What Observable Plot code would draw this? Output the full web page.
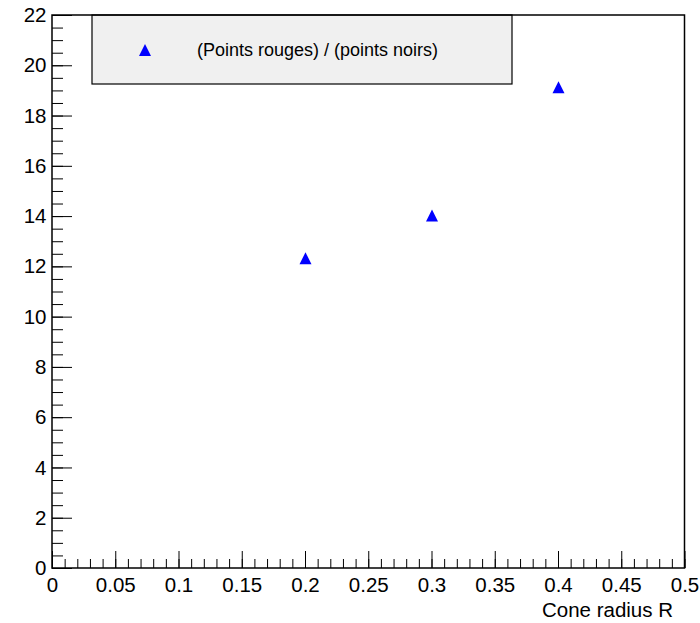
<!DOCTYPE html>
<html>
<head>
<meta charset="utf-8">
<script src="https://cdn.jsdelivr.net/npm/d3@7"></script>
<script src="https://cdn.jsdelivr.net/npm/@observablehq/plot@0.6"></script>
<style>
  html, body { margin: 0; padding: 0; background: #fff; }
  #chart svg { display: block; font-family: "Liberation Sans", Arial, Helvetica, sans-serif; }
</style>
</head>
<body>
<div id="chart"></div>
<script>
// Ratio of red points to black points as a function of the cone radius R
const coneRadius = [0.2, 0.3, 0.4];
const pointRatio = [12.34, 14.04, 19.15];

const xTickValues = [0, 0.05, 0.1, 0.15, 0.2, 0.25, 0.3, 0.35, 0.4, 0.45, 0.5];
const xTickLabels = ["0", "0.05", "0.1", "0.15", "0.2", "0.25", "0.3", "0.35", "0.4", "0.45", "0.5"];
const yTickValues = [0, 2, 4, 6, 8, 10, 12, 14, 16, 18, 20, 22];
const yTickLabels = ["0", "2", "4", "6", "8", "10", "12", "14", "16", "18", "20", "22"];

const xTitle = "Cone radius R";
const legendLabel = "(Points rouges) / (points noirs)";

const data = coneRadius.map((r, i) => ({r, v: pointRatio[i]}));

// Minor tick positions: every 0.01 on x, every 0.5 on y
const xMinor = d3.range(0, 51).map(i => i / 100);
const yMinor = d3.range(0, 45).map(i => i / 2);

const W = 700, H = 623;
const mL = 52, mR = 15.5, mT = 15, mB = 55;
const innerW = W - mL - mR, innerH = H - mT - mB;
const fontSize = 20.5;

// Upright triangle marker, as tall as it is wide
const triangle = {
  draw(ctx, size) {
    const s = Math.sqrt(size / Math.PI);
    ctx.moveTo(0, -s);
    ctx.lineTo(s, s);
    ctx.lineTo(-s, s);
    ctx.closePath();
  }
};

const fmtX = d => xTickLabels[xTickValues.indexOf(d)];
const fmtY = d => yTickLabels[yTickValues.indexOf(d)];

const chart = Plot.plot({
  width: W,
  height: H,
  marginLeft: mL,
  marginRight: mR,
  marginTop: mT,
  marginBottom: mB,
  x: {domain: [0, 0.5], axis: null, label: null},
  y: {domain: [0, 22], axis: null, label: null},
  marks: [
    // inward ticks along the bottom axis
    Plot.tickX(xMinor, {x: d => d, insetTop: innerH - 9, stroke: "#000", strokeWidth: 1}),
    Plot.tickX(xTickValues, {x: d => d, insetTop: innerH - 17, stroke: "#000", strokeWidth: 1}),
    // inward ticks along the left axis
    Plot.tickY(yMinor, {y: d => d, insetRight: innerW - 11, stroke: "#000", strokeWidth: 1}),
    Plot.tickY(yTickValues, {y: d => d, insetRight: innerW - 20, stroke: "#000", strokeWidth: 1}),
    Plot.axisX(xTickValues, {tickSize: 0, tickPadding: 9, tickFormat: fmtX, fontSize, fill: "#000", label: null}),
    Plot.axisY(yTickValues, {tickSize: 0, tickPadding: 6, tickFormat: fmtY, fontSize, fill: "#000", label: null}),
    Plot.text([xTitle], {
      frameAnchor: "bottom-right", text: d => d, textAnchor: "end",
      dx: -12, dy: 48, fontSize, fill: "#000"
    }),
    Plot.dot(data, {x: "r", y: "v", symbol: triangle, r: 6, fill: "#0000ff", stroke: "none"})
  ]
});

// Legend box in the top-left part of the frame
const svg = d3.select(chart);
const legend = svg.append("g").attr("text-anchor", "start");
legend.append("rect")
  .attr("x", 92).attr("y", mT).attr("width", 420).attr("height", 69)
  .attr("fill", "#f0f0f0").attr("stroke", "#000").attr("stroke-width", 1.2);
const marker = d3.path();
triangle.draw(marker, Math.PI * 36);
legend.append("path")
  .attr("transform", "translate(145,50)")
  .attr("d", marker.toString())
  .attr("fill", "#0000ff");
legend.append("text")
  .attr("x", 197).attr("y", 50).attr("dy", "0.35em")
  .attr("font-size", 18).attr("fill", "#000")
  .text(legendLabel);

// Plot frame drawn last so its edges sit above the legend
svg.append("rect")
  .attr("x", mL).attr("y", mT).attr("width", innerW).attr("height", innerH)
  .attr("fill", "none").attr("stroke", "#000").attr("stroke-width", 1.5);

document.getElementById("chart").appendChild(chart);
</script>
</body>
</html>
